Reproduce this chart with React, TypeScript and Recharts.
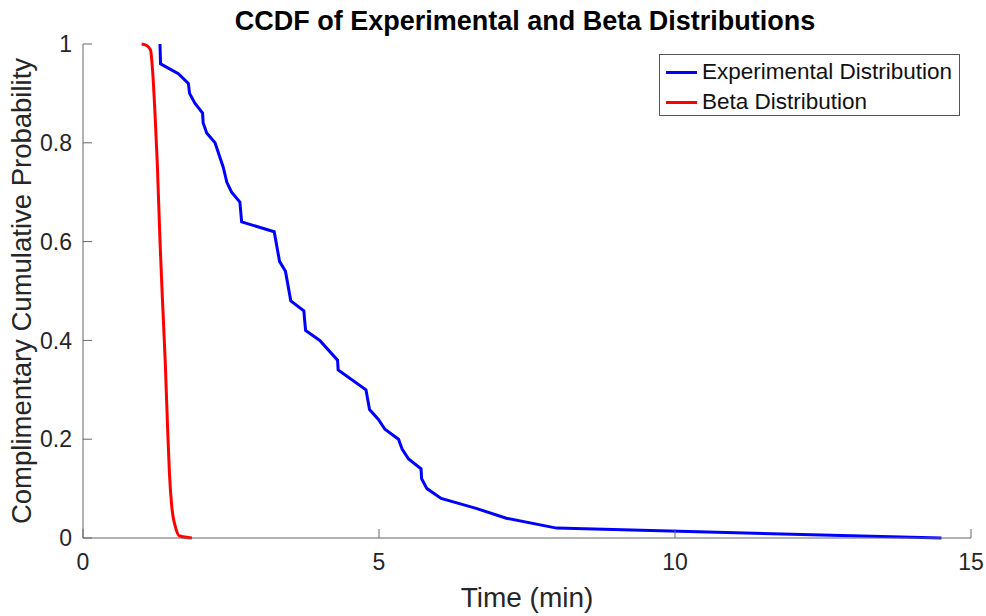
import { LineChart, Line, XAxis, YAxis, Legend, Label } from 'recharts'

const expTime = [1.3, 1.31, 1.61, 1.78, 1.8, 1.89, 2.02, 2.03, 2.09, 2.23, 2.37, 2.43, 2.51, 2.65, 2.68, 3.23, 3.32, 3.42, 3.51, 3.73, 3.76, 4.0, 4.3, 4.31, 4.78, 4.84, 4.99, 5.1, 5.33, 5.39, 5.5, 5.71, 5.72, 5.81, 6.05, 6.64, 7.15, 8.0, 14.5]
const expProb = [1, 0.96, 0.94, 0.92, 0.9, 0.88, 0.86, 0.84, 0.82, 0.8, 0.75, 0.72, 0.7, 0.68, 0.64, 0.62, 0.56, 0.54, 0.48, 0.46, 0.42, 0.4, 0.36, 0.34, 0.3, 0.26, 0.24, 0.22, 0.2, 0.18, 0.16, 0.14, 0.12, 0.1, 0.08, 0.06, 0.04, 0.02, 0]

// Fitted beta CCDF
const betaTime = [0.99, 1.075, 1.14, 1.175, 1.216, 1.255, 1.3, 1.34, 1.39, 1.43, 1.46, 1.5, 1.56, 1.63, 1.84]
const betaProb = [1, 0.997, 0.988, 0.947, 0.86, 0.758, 0.603, 0.488, 0.354, 0.219, 0.131, 0.063, 0.023, 0.004, 0]

const xTicks = [0, 5, 10, 15]
const yTicks = [0, 0.2, 0.4, 0.6, 0.8, 1]

const expData = expTime.map((x, i) => ({ x, y: expProb[i] }))
const betaData = betaTime.map((x, i) => ({ x, y: betaProb[i] }))

const FONT = '"Liberation Sans", Arial, sans-serif'
const AXIS = '#666666'
const TXT = '#262626'

function LegendBox() {
  const rows = [
    { name: 'Experimental Distribution', color: '#0000ff' },
    { name: 'Beta Distribution', color: '#ff0000' },
  ]
  return (
    <div style={{ width: 299, height: 60, border: '1px solid #555', background: '#fff', fontFamily: FONT, fontSize: 22.5, color: '#111' }}>
      {rows.map((r) => (
        <div key={r.name} style={{ display: 'flex', alignItems: 'center', height: 30, paddingTop: r.name.startsWith('Exp') ? 2 : 0 }}>
          <div style={{ width: 31, height: 3, background: r.color, marginLeft: 6, marginRight: 5 }} />
          <span style={{ lineHeight: 1 }}>{r.name}</span>
        </div>
      ))}
    </div>
  )
}

export default function App() {
  return (
    <div style={{ position: 'absolute', left: 0, top: 0, width: 986, height: 616, background: '#fff' }}>
      <div style={{ position: 'absolute', left: 0, width: 1050, top: 8, textAlign: 'center', fontFamily: FONT, fontWeight: 'bold', fontSize: 27, lineHeight: 1, color: '#000' }}>
        CCDF of Experimental and Beta Distributions
      </div>
      <LineChart width={986} height={616} margin={{ top: 44, right: 15, bottom: 0, left: 0 }}>
        <XAxis
          type="number"
          dataKey="x"
          domain={[0, 15]}
          ticks={xTicks}
          height={78}
          stroke={AXIS}
          tickSize={-9}
          tickMargin={25}
          tick={{ fill: TXT, fontSize: 23, fontFamily: FONT }}
          allowDataOverflow
        >
          <Label value="Time (min)" position="insideBottom" offset={9} style={{ fill: TXT, fontSize: 28, fontFamily: FONT }} />
        </XAxis>
        <YAxis
          type="number"
          dataKey="y"
          domain={[0, 1]}
          ticks={yTicks}
          width={83}
          stroke={AXIS}
          tickSize={-9}
          tickMargin={20}
          tick={{ fill: TXT, fontSize: 23, fontFamily: FONT }}
        >
          <Label value="Complimentary Cumulative Probability" angle={-90} position="insideLeft" offset={21} style={{ fill: TXT, fontSize: 27.5, fontFamily: FONT, textAnchor: 'middle' }} />
        </YAxis>
        <Legend
          layout="vertical"
          align="center"
          verticalAlign="middle"
          content={() => <LegendBox />}
          wrapperStyle={{ position: 'absolute', left: 659, top: 54, width: 'auto', height: 'auto' }}
        />
        <Line data={expData} dataKey="y" name="Experimental Distribution" type="linear" stroke="#0000ff" strokeWidth={3} dot={false} isAnimationActive={false} />
        <Line data={betaData} dataKey="y" name="Beta Distribution" type="monotone" stroke="#ff0000" strokeWidth={3} dot={false} isAnimationActive={false} />
      </LineChart>
    </div>
  )
}
